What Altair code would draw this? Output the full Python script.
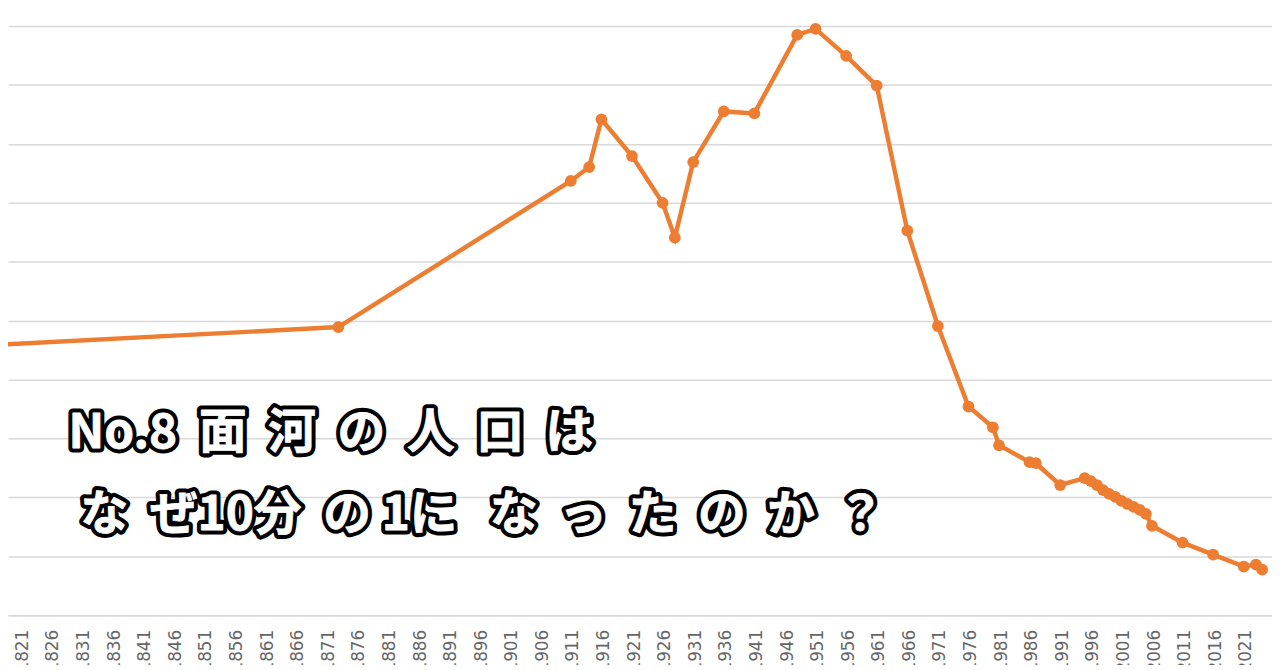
import altair as alt
import pandas as pd

# ---- data (population, arbitrary units; grid step 500) ----
years = [1816, 1872, 1910, 1913, 1915, 1920, 1925, 1927, 1930, 1935, 1940,
         1947, 1950, 1955, 1960, 1965, 1970, 1975, 1979, 1980, 1985, 1986,
         1990, 1994, 1995, 1996, 1997, 1998, 1999, 2000, 2001, 2002, 2003,
         2004, 2005, 2010, 2015, 2020, 2022, 2023]
population = [2294, 2445, 3685, 3803, 4208, 3896, 3499, 3204, 3845, 4275, 4258,
              4924, 4975, 4747, 4494, 3263, 2454, 1771, 1594, 1442, 1299, 1290,
              1105, 1164, 1138, 1105, 1062, 1029, 1004, 970, 944, 919, 894,
              860, 759, 616, 514, 413, 430, 388]

tick_years = [1821, 1826, 1831, 1836, 1841, 1846, 1851, 1856, 1861, 1866,
              1871, 1876, 1881, 1886, 1891, 1896, 1901, 1906, 1911, 1916,
              1921, 1926, 1931, 1936, 1941, 1946, 1951, 1956, 1961, 1966,
              1971, 1976, 1981, 1986, 1991, 1996, 2001, 2006, 2011, 2016, 2021]
grid_values = [0, 500, 1000, 1500, 2000, 2500, 3000, 3500, 4000, 4500, 5000]

S = "\u00a0"  # non-breaking space (kept by SVG, unlike plain spaces)
title_line1 = f"No.8{S*2}面{S*2}河{S*2}の{S*2}人{S*2}口{S*2}は"
title_line2 = f"な{S*2}ぜ10分{S*2}の{S}1に{S*3}な{S*2}っ{S*2}た{S*2}の{S*2}か{S*2}？"

df = pd.DataFrame({"year": years, "population": population})
t1 = pd.DataFrame({"t": [title_line1]})
t2 = pd.DataFrame({"t": [title_line2]})

ORANGE = "#ED7D31"

x_enc = alt.X("year:Q",
              scale=alt.Scale(domain=[1817.99, 2024.62], nice=False, zero=False),
              axis=alt.Axis(values=tick_years, format="d", labelAngle=-90,
                            labelAlign="right", labelBaseline="middle",
                            labelPadding=14, labelOffset=-4, ticks=False, tickSize=0,
                            labelFont="DejaVu Sans", labelFontSize=17,
                            labelColor="#666666", labelOverlap=False, labelFlush=False,
                            domainColor="#d9d9d9", domainWidth=1.5, grid=False,
                            title=None))
y_enc = alt.Y("population:Q",
              scale=alt.Scale(domain=[0, 5135], nice=False, zero=True),
              axis=alt.Axis(values=grid_values, labels=False, ticks=False,
                            domain=False, grid=True, gridColor="#d9d9d9",
                            gridWidth=1.5, title=None))

base = alt.Chart(df).encode(x=x_enc, y=y_enc)
line = base.mark_line(color=ORANGE, strokeWidth=4.5, clip=True)
points = base.mark_circle(color=ORANGE, size=140, opacity=1, clip=True)


def title_layers(data, x, y):
    common = dict(align="left", baseline="alphabetic", font="Noto Sans CJK JP",
                  fontWeight="bold", fontSize=48, strokeJoin="round")
    outline = alt.Chart(data).mark_text(
        fill="black", stroke="black", strokeWidth=9, **common
    ).encode(text="t:N", x=alt.value(x), y=alt.value(y))
    fill = alt.Chart(data).mark_text(
        fill="white", stroke="white", strokeWidth=0.8, **common
    ).encode(text="t:N", x=alt.value(x), y=alt.value(y))
    return [outline, fill]


layers = [line, points] + title_layers(t1, 61, 441) + title_layers(t2, 73, 523)

chart = alt.layer(*layers).properties(
    width=1272, height=609,
    autosize=alt.AutoSizeParams(type="none"),
    padding={"left": 0, "top": 0, "right": 0, "bottom": 48},
    background="white",
).configure_view(strokeWidth=0)

chart.save("out.html", embed_options={"renderer": "svg", "actions": False})
